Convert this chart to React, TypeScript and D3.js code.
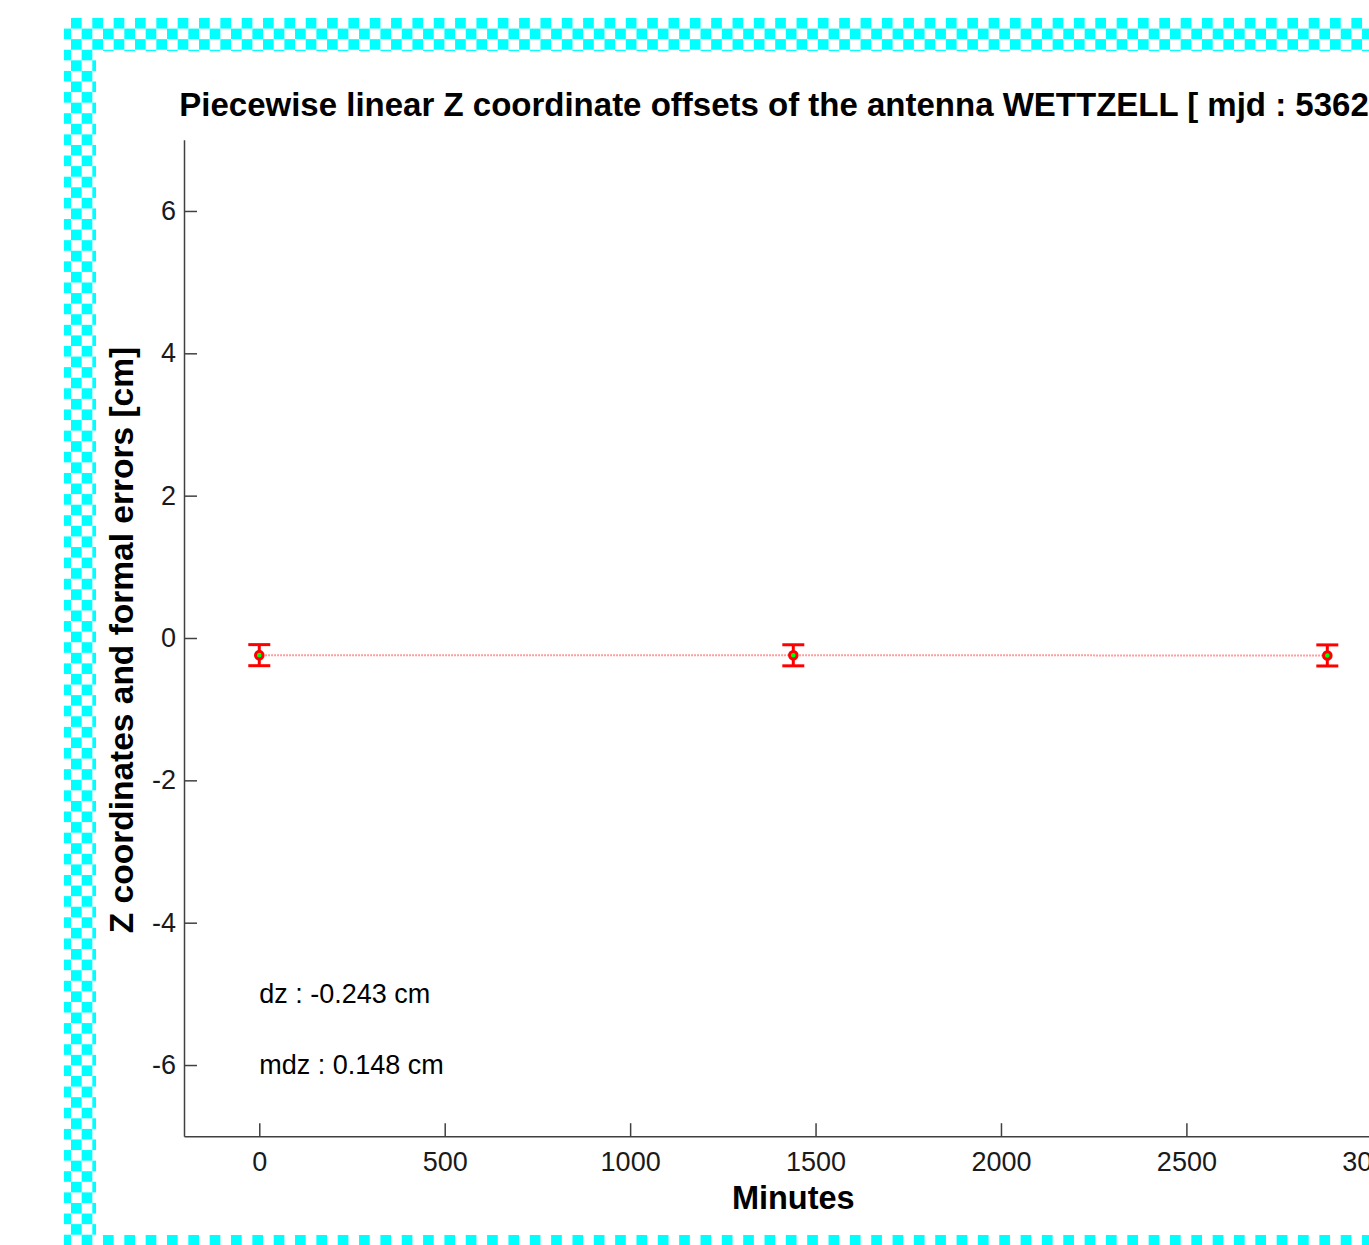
import { useEffect, useRef } from 'react'
import * as d3 from 'd3'

const W = 1369
const H = 1245
const MINUTES = [0, 1440, 2880]
const DZ = [-0.241, -0.243, -0.245]
const MDZ = [0.148, 0.148, 0.148]
const X_TICKS = [0, 500, 1000, 1500, 2000, 2500, 3000]
const Y_TICKS = [-6, -4, -2, 0, 2, 4, 6]
const TITLE = 'Piecewise linear Z coordinate offsets of the antenna WETTZELL [ mjd : 53625 ]'
const X_LABEL = 'Minutes'
const Y_LABEL = 'Z coordinates and formal errors [cm]'
const NOTES = ['dz : -0.243 cm', 'mdz : 0.148 cm']

const FONT = '"Liberation Sans", Arial, sans-serif'
const AXIS = { left: 184, right: 1402.6, top: 139.8, bottom: 1136.2 }
const CYAN = '#00ffff'

export default function App() {
  const svgRef = useRef<SVGSVGElement>(null)

  useEffect(() => {
    if (!svgRef.current) return
    const svg = d3.select(svgRef.current)
    svg.selectAll('*').remove()

    // checkered backdrop (transparency pattern) around the figure
    const sq = 10.67
    const sqh = 10.58
    const pat = svg.append('defs').append('pattern')
      .attr('id', 'chk')
      .attr('patternUnits', 'userSpaceOnUse')
      .attr('x', 60.3).attr('y', 18)
      .attr('width', sq * 2).attr('height', sqh * 2)
    pat.append('rect').attr('x', sq).attr('y', 0).attr('width', sq).attr('height', sqh).attr('fill', CYAN)
    pat.append('rect').attr('x', 0).attr('y', sqh).attr('width', sq).attr('height', sqh).attr('fill', CYAN)

    svg.append('rect').attr('x', 64).attr('y', 18).attr('width', W - 64).attr('height', H - 18)
      .attr('fill', 'url(#chk)').attr('shape-rendering', 'crispEdges')
    svg.append('rect').attr('x', 95.5).attr('y', 50.5).attr('width', W).attr('height', 1235 - 50.5)
      .attr('fill', '#fff').attr('shape-rendering', 'crispEdges')

    const x = d3.scaleLinear().domain([-203, 3083]).range([AXIS.left, AXIS.right])
    const y = d3.scaleLinear().domain([-7, 7]).range([AXIS.bottom, AXIS.top])

    const styleAxis = (g: d3.Selection<SVGGElement, unknown, null, undefined>) => {
      g.select('.domain').attr('stroke', '#404040').attr('stroke-width', 1.5)
      g.selectAll('.tick line').attr('stroke', '#404040').attr('stroke-width', 1.5)
      g.selectAll('text').attr('fill', '#1a1a1a').attr('font-size', '27px').attr('font-family', FONT)
    }
    const fmt = (d: d3.NumberValue) => String(d)

    // x axis
    svg.append('g')
      .attr('transform', `translate(0,${AXIS.bottom})`)
      .call(d3.axisBottom(x).tickValues(X_TICKS).tickSizeInner(-13).tickSizeOuter(0).tickPadding(16).tickFormat(fmt))
      .call(styleAxis)

    // y axis
    svg.append('g')
      .attr('transform', `translate(${AXIS.left},0)`)
      .call(d3.axisLeft(y).tickValues(Y_TICKS).tickSizeInner(-13).tickSizeOuter(0).tickPadding(8).tickFormat(fmt))
      .call(styleAxis)

    const pts = MINUTES.map((m, i) => ({ m, v: DZ[i], e: MDZ[i] }))

    // dotted connecting line
    svg.append('path')
      .datum(pts)
      .attr('fill', 'none')
      .attr('stroke', '#ff0000')
      .attr('stroke-opacity', 0.5)
      .attr('stroke-width', 2)
      .attr('stroke-dasharray', '1.5,1.5')
      .attr('d', d3.line<{ m: number; v: number }>().x((d) => x(d.m)).y((d) => y(d.v)))

    // error bars
    const eb = svg.selectAll('.eb').data(pts).join('g').attr('class', 'eb')
      .attr('stroke', '#ff0000').attr('stroke-width', 3)
    eb.append('line')
      .attr('x1', (d) => x(d.m)).attr('x2', (d) => x(d.m))
      .attr('y1', (d) => y(d.v - d.e)).attr('y2', (d) => y(d.v + d.e))
    eb.append('line')
      .attr('x1', (d) => x(d.m) - 11).attr('x2', (d) => x(d.m) + 11)
      .attr('y1', (d) => y(d.v + d.e)).attr('y2', (d) => y(d.v + d.e))
    eb.append('line')
      .attr('x1', (d) => x(d.m) - 11).attr('x2', (d) => x(d.m) + 11)
      .attr('y1', (d) => y(d.v - d.e)).attr('y2', (d) => y(d.v - d.e))

    // markers
    svg.selectAll('.mk').data(pts).join('circle').attr('class', 'mk')
      .attr('cx', (d) => x(d.m)).attr('cy', (d) => y(d.v))
      .attr('r', 3.8)
      .attr('fill', '#00ff00')
      .attr('stroke', '#ff0000')
      .attr('stroke-width', 3)

    // annotations
    NOTES.forEach((t, i) => {
      svg.append('text')
        .attr('x', x(0)).attr('y', y(-5 - i)).attr('dy', '0.35em')
        .attr('font-family', FONT).attr('font-size', '27px').attr('fill', '#000')
        .text(t)
    })

    // title & labels
    svg.append('text')
      .attr('x', (AXIS.left + AXIS.right) / 2).attr('y', 116)
      .attr('text-anchor', 'middle')
      .attr('font-family', FONT).attr('font-weight', 'bold').attr('font-size', '33px')
      .text(TITLE)

    svg.append('text')
      .attr('x', (AXIS.left + AXIS.right) / 2).attr('y', 1209)
      .attr('text-anchor', 'middle')
      .attr('font-family', FONT).attr('font-weight', 'bold').attr('font-size', '32.5px')
      .text(X_LABEL)

    svg.append('text')
      .attr('transform', `translate(133,${(AXIS.top + AXIS.bottom) / 2 + 2}) rotate(-90)`)
      .attr('text-anchor', 'middle')
      .attr('font-family', FONT).attr('font-weight', 'bold').attr('font-size', '33.5px')
      .text(Y_LABEL)
  }, [])

  return (
    <svg
      ref={svgRef}
      width={W}
      height={H}
      style={{ position: 'absolute', left: 0, top: 0, background: '#fff', display: 'block' }}
    />
  )
}
